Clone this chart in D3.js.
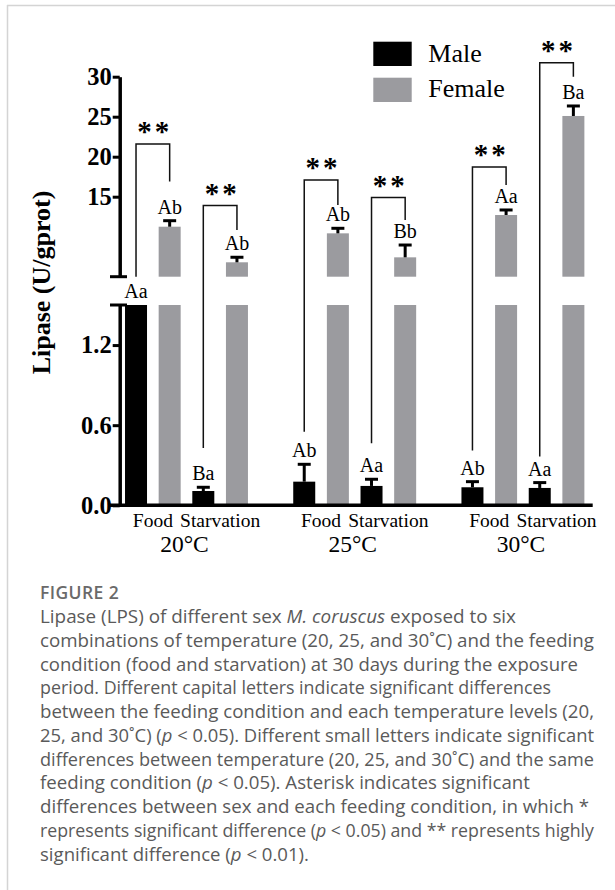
<!DOCTYPE html>
<html>
<head>
<meta charset="utf-8">
<script src="https://cdn.jsdelivr.net/npm/d3@7/dist/d3.min.js"></script>
<style>
  html, body { margin: 0; padding: 0; background: #fff; }
  svg { display: block; }
</style>
</head>
<body>
<svg id="chart" width="615" height="890"></svg>
<script>
// temperature groups and feeding conditions
const groups = ["20°C", "25°C", "30°C"];
const conditions = ["Food", "Starvation"];
const sexes = ["Male", "Female"];

// values in group order: 20 food, 20 starv, 25 food, 25 starv, 30 food, 30 starv
const maleMeans = [2.6, 0.107, 0.177, 0.145, 0.135, 0.13];
const maleErr = [0, 0.028, 0.13, 0.05, 0.042, 0.04];
const femaleMeans = [11.25, 6.8, 10.42, 7.42, 12.71, 25.09];
const femaleErr = [0.75, 0.63, 0.63, 1.54, 0.63, 1.25];

const maleLetters = ["Aa", "Ba", "Ab", "Aa", "Ab", "Aa"];
const femaleLetters = ["Ab", "Ab", "Ab", "Bb", "Aa", "Ba"];
const sigMarks = ["**", "**", "**", "**", "**", "**"];

// bracket levels (in axis units)
const bracketTop = [21.6, 13.9, 17.1, 14.9, 18.7, 31.75];
const bracketRight = [16.9, 10.84, 13.96, 12.1, 16.46, 30.0];
const bracketLeft = [5, 0.43, 0.55, 0.465, 0.41, 0.365];

// broken y axis
const lowTicks = [0, 0.6, 1.2];
const highTicks = [15, 20, 25, 30];
const lowDomain = [0, 1.5];
const highDomain = [5, 30];

const svg = d3.select("#chart");

// frame lines
svg.append("line").attr("x1", 7).attr("x2", 615).attr("y1", 5.5).attr("y2", 5.5)
  .attr("stroke", "#d4d4d4").attr("stroke-width", 1.5);
svg.append("line").attr("x1", 7.5).attr("x2", 7.5).attr("y1", 5).attr("y2", 890)
  .attr("stroke", "#d4d4d4").attr("stroke-width", 1.5);

const yLow = d3.scaleLinear().domain(lowDomain).range([505.3, 305]);
const yHigh = d3.scaleLinear().domain(highDomain).range([276.7, 76.7]);
function y(v) {
  if (v <= lowDomain[1]) return yLow(v);
  return yHigh(Math.max(v, highDomain[0]));
}

const x0 = d3.scaleBand().domain(groups).range([119.2, 590.2]).paddingInner(0.2).paddingOuter(0);
const slots = [];
conditions.forEach(c => sexes.forEach(s => slots.push(c + "-" + s)));
const x1 = d3.scaleBand().domain(slots).range([0, x0.bandwidth()]).paddingInner(0.346).paddingOuter(0.173);

const colors = { Male: "#000000", Female: "#9b9b9f" };

// flatten data
const rows = [];
groups.forEach((g, gi) => {
  conditions.forEach((c, ci) => {
    const i = gi * 2 + ci;
    rows.push({ g, c, s: "Male", i, mean: maleMeans[i], err: maleErr[i], letter: maleLetters[i] });
    rows.push({ g, c, s: "Female", i, mean: femaleMeans[i], err: femaleErr[i], letter: femaleLetters[i] });
  });
});
const bx = d => x0(d.g) + x1(d.c + "-" + d.s);
const bw = x1.bandwidth();

// lower bar pieces
svg.append("g").selectAll("rect")
  .data(rows)
  .enter()
  .append("rect")
  .attr("x", bx)
  .attr("y", d => yLow(Math.min(d.mean, lowDomain[1])))
  .attr("width", bw)
  .attr("height", d => yLow(0) - yLow(Math.min(d.mean, lowDomain[1])))
  .attr("fill", d => colors[d.s]);

// upper bar pieces
svg.append("g").selectAll("rect")
  .data(rows.filter(d => d.mean > highDomain[0]))
  .enter()
  .append("rect")
  .attr("x", bx)
  .attr("y", d => yHigh(d.mean))
  .attr("width", bw)
  .attr("height", d => yHigh(highDomain[0]) - yHigh(d.mean))
  .attr("fill", d => colors[d.s]);

// error bars (upper only)
const errRows = rows.filter(d => d.err > 0);
const eg = svg.append("g").attr("stroke", "#000").attr("stroke-width", 3);
eg.selectAll(".ev").data(errRows).enter().append("line")
  .attr("x1", d => bx(d) + bw / 2).attr("x2", d => bx(d) + bw / 2)
  .attr("y1", d => y(d.mean)).attr("y2", d => y(d.mean + d.err));
eg.selectAll(".ec").data(errRows).enter().append("line")
  .attr("x1", d => bx(d) + bw / 2 - 6.5).attr("x2", d => bx(d) + bw / 2 + 6.5)
  .attr("y1", d => y(d.mean + d.err)).attr("y2", d => y(d.mean + d.err));

// letters
svg.append("g").selectAll("text")
  .data(rows)
  .enter()
  .append("text")
  .attr("x", d => bx(d) + bw / 2)
  .attr("y", d => {
    const top = d.mean > lowDomain[1] && d.mean < highDomain[0] ? yLow(lowDomain[1]) : y(d.mean + d.err);
    return top - 7;
  })
  .attr("text-anchor", "middle")
  .attr("font-family", "'Liberation Serif', 'Times New Roman', serif")
  .attr("font-size", 20)
  .text(d => d.letter);

// significance brackets
const pairs = [];
groups.forEach((g, gi) => conditions.forEach((c, ci) => pairs.push({ g, c, i: gi * 2 + ci })));
const cx = (p, s) => x0(p.g) + x1(p.c + "-" + s) + bw / 2;
svg.append("g").selectAll("path")
  .data(pairs)
  .enter()
  .append("path")
  .attr("fill", "none")
  .attr("stroke", "#111")
  .attr("stroke-width", 1.5)
  .attr("d", p => {
    const xl = cx(p, "Male"), xr = cx(p, "Female");
    return "M" + xl + "," + y(bracketLeft[p.i]) + "V" + yHigh(bracketTop[p.i]) +
      "H" + xr + "V" + yHigh(bracketRight[p.i]);
  });
svg.append("g").selectAll("text")
  .data(pairs)
  .enter()
  .append("text")
  .attr("x", p => (cx(p, "Male") + cx(p, "Female")) / 2 + 2)
  .attr("y", p => yHigh(bracketTop[p.i]) - 3)
  .attr("text-anchor", "middle")
  .attr("font-family", "'Liberation Serif', 'Times New Roman', serif")
  .attr("font-weight", "bold")
  .attr("font-size", 29)
  .attr("letter-spacing", 3)
  .text(p => sigMarks[p.i]);

// y axes
const axisFont = "'Liberation Serif', 'Times New Roman', serif";
function styleAxis(g) {
  g.select(".domain").attr("stroke-width", 3.5);
  g.selectAll(".tick line").attr("stroke-width", 3);
  g.selectAll(".tick text")
    .attr("font-family", axisFont)
    .attr("font-weight", "bold")
    .attr("font-size", 24.5)
    .attr("fill", "#000");
}
const axisX = 119.7;
svg.append("g")
  .attr("transform", "translate(" + axisX + ",0)")
  .call(d3.axisLeft(yHigh).tickValues(highTicks).tickSize(7).tickSizeOuter(0).tickPadding(1))
  .call(styleAxis);
svg.append("g")
  .attr("transform", "translate(" + axisX + ",0)")
  .call(d3.axisLeft(yLow).tickValues(lowTicks).tickSize(7).tickSizeOuter(0).tickPadding(1).tickFormat(d3.format(".1f")))
  .call(styleAxis);

// break caps
[yHigh(highDomain[0]), yLow(lowDomain[1])].forEach(yy => {
  svg.append("line").attr("x1", 110).attr("x2", 127).attr("y1", yy).attr("y2", yy)
    .attr("stroke", "#000").attr("stroke-width", 3);
});

// x baseline
svg.append("line")
  .attr("x1", 110).attr("x2", x0.range()[1] + 2.5)
  .attr("y1", yLow(0)).attr("y2", yLow(0))
  .attr("stroke", "#000").attr("stroke-width", 3.5);

// condition labels
svg.append("g").selectAll("text")
  .data(pairs)
  .enter()
  .append("text")
  .attr("x", p => (cx(p, "Male") + cx(p, "Female")) / 2)
  .attr("y", 526.7)
  .attr("text-anchor", "middle")
  .attr("font-family", axisFont)
  .attr("font-size", 19.5)
  .text(p => p.c);

// group labels
svg.append("g").selectAll("text")
  .data(groups)
  .enter()
  .append("text")
  .attr("x", g => x0(g) + x0.bandwidth() / 2 - 2)
  .attr("y", 551.7)
  .attr("text-anchor", "middle")
  .attr("font-family", axisFont)
  .attr("font-size", 23.5)
  .text(g => g);

// y title
svg.append("text")
  .attr("transform", "translate(50,282.5) rotate(-90)")
  .attr("text-anchor", "middle")
  .attr("font-family", axisFont)
  .attr("font-weight", "bold")
  .attr("font-size", 26)
  .text("Lipase (U/gprot)");

// legend
const legend = svg.append("g");
sexes.forEach((s, i) => {
  legend.append("rect").attr("x", 373.3).attr("y", 41.7 + i * 36).attr("width", 38.4).attr("height", 24.3)
    .attr("fill", colors[s]);
  legend.append("text").attr("x", 428.3).attr("y", 61.7 + i * 35)
    .attr("font-family", axisFont).attr("font-size", 26).text(s);
});

// caption
const capFont = "'Open Sans', 'Noto Sans', sans-serif";
svg.append("text")
  .attr("x", 40).attr("y", 598.5)
  .attr("font-family", capFont).attr("font-weight", 600).attr("font-size", 17.5)
  .attr("letter-spacing", 0.4)
  .attr("fill", "#6a6a6a")
  .text("FIGURE 2");

const captionLines = [
  [["Lipase (LPS) of different sex ", 0], ["M. coruscus", 1], [" exposed to six", 0]],
  [["combinations of temperature (20, 25, and 30˚C) and the feeding", 0]],
  [["condition (food and starvation) at 30 days during the exposure", 0]],
  [["period. Different capital letters indicate significant differences", 0]],
  [["between the feeding condition and each temperature levels (20,", 0]],
  [["25, and 30˚C) (", 0], ["p", 1], [" < 0.05). Different small letters indicate significant", 0]],
  [["differences between temperature (20, 25, and 30˚C) and the same", 0]],
  [["feeding condition (", 0], ["p", 1], [" < 0.05). Asterisk indicates significant", 0]],
  [["differences between sex and each feeding condition, in which *", 0]],
  [["represents significant difference (", 0], ["p", 1], [" < 0.05) and ** represents highly", 0]],
  [["significant difference (", 0], ["p", 1], [" < 0.01).", 0]]
];
// rendered line widths in the original layout
const captionWidths = [476, 554, 538, 511, 554, 554, 554, 490, 549, 554, 269];
const capG = svg.append("g")
  .attr("font-family", capFont).attr("font-size", 17.5).attr("fill", "#5a5a5a");
captionLines.forEach((parts, li) => {
  const t = capG.append("text").attr("x", 40).attr("y", 623 + li * 23.75)
    .attr("textLength", captionWidths[li]).attr("lengthAdjust", "spacingAndGlyphs");
  parts.forEach(([txt, it]) => {
    const ts = t.append("tspan").text(txt);
    if (it) ts.attr("font-style", "italic");
  });
});
</script>
</body>
</html>
